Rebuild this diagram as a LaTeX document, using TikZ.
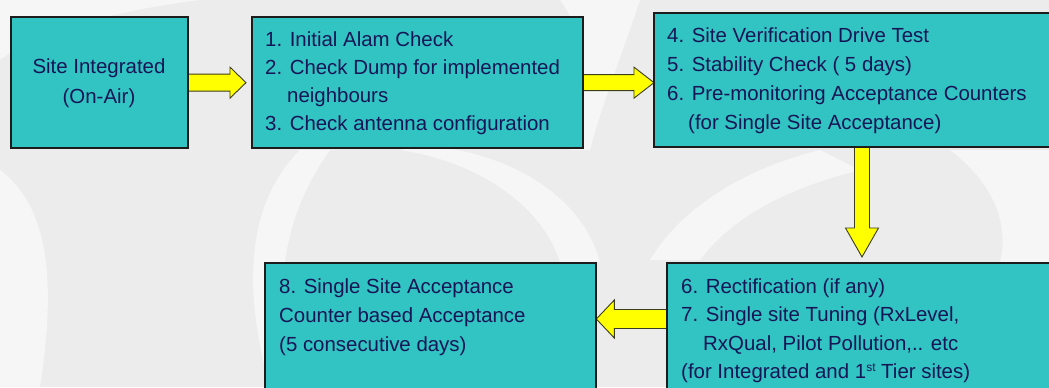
\documentclass[tikz,border=0pt]{standalone}
\usepackage{fontspec}
\setmainfont{Liberation Sans}
\usetikzlibrary{calc}

\definecolor{bggray}{RGB}{236,236,236}
\definecolor{boxteal}{RGB}{50,195,195}
\definecolor{boxedge}{RGB}{28,28,28}
\definecolor{txtnavy}{RGB}{22,22,86}
\definecolor{arrowfill}{RGB}{255,255,0}
\definecolor{arrowedge}{RGB}{60,60,30}

% block arrow: tail, tip, shaft half-width, head half-width, head length
\newcommand\blockarrow[5]{%
  \coordinate (ba-h) at ($(#2)!#5!(#1)$);
  \draw[blockarrow]
    ($(#1)!#3!90:(#2)$) -- ($(ba-h)!#3!90:(#2)$) -- ($(ba-h)!#4!90:(#2)$)
    -- (#2)
    -- ($(ba-h)!#4!-90:(#2)$) -- ($(ba-h)!#3!-90:(#2)$) -- ($(#1)!#3!-90:(#2)$) -- cycle;
}

\begin{document}
\begin{tikzpicture}[x=1bp,y=-1bp,
  stepbox/.style={draw=boxedge,line width=1.3bp,fill=boxteal,rectangle,inner sep=0pt,anchor=north west},
  steptext/.style={text=txtnavy,font=\fontsize{20.5}{24}\selectfont,inner sep=0pt,anchor=base west},
  steptextc/.style={steptext,anchor=base},
  blockarrow/.style={fill=arrowfill,draw=arrowedge,line width=0.9bp,line join=miter},
  swoosh/.style={fill=white,opacity=0.55}]

\useasboundingbox (0,0) rectangle (1049,387);
\clip (0,0) rectangle (1049,387);

% background with soft watermark swooshes
\fill[bggray] (0,0) rectangle (1049,387);
\fill[swoosh] (0,0) -- (200,0) .. controls (120,10) and (40,30) .. (0,60) -- cycle;
\fill[swoosh] (0,170) .. controls (40,200) and (60,260) .. (40,387) -- (0,387) -- cycle;
\fill[swoosh] (300,150) .. controls (250,200) and (240,280) .. (270,387) -- (300,387) .. controls (270,300) and (280,220) .. (330,150) -- cycle;
\fill[swoosh] (560,0) -- (640,0) .. controls (620,60) and (600,110) .. (590,150) -- (570,150) .. controls (585,90) and (590,40) .. (560,0) -- cycle;
\fill[swoosh] (820,150) .. controls (740,170) and (680,210) .. (650,260) -- (700,260) .. controls (730,220) and (780,190) .. (860,170) -- cycle;
\fill[swoosh] (950,150) .. controls (990,180) and (1010,220) .. (1000,262) -- (1049,262) -- (1049,150) -- cycle;
\fill[swoosh] (400,150) .. controls (470,160) and (540,200) .. (560,262) -- (600,262) .. controls (580,190) and (500,150) .. (420,145) -- cycle;

% process boxes
\node[stepbox,minimum width=176bp,minimum height=130bp] (b1) at (11,17) {};
\node[stepbox,minimum width=330bp,minimum height=130bp] (b2) at (252,17) {};
\node[stepbox,minimum width=411bp,minimum height=133bp] (b3) at (654,13) {};
\node[stepbox,minimum width=400bp,minimum height=140bp] (b4) at (667,263) {};
\node[stepbox,minimum width=330bp,minimum height=140bp] (b5) at (265,263) {};

% arrow ends
\coordinate (a1tip) at ($(b2.west)+(-6,0)$);
\coordinate (a2tail) at (b2.east);
\coordinate (a2tip) at (b2.east -| b3.west);
\coordinate (a3tail) at ($(b3.south west)+(208,0)$);
\coordinate (a3tip) at ($(b4.north west)+(195,-6)$);
\coordinate (a4tail) at ($(b4.north west)+(0,56)$);
\coordinate (a4tip) at (a4tail -| b5.east);

% connectors
\blockarrow{b1.east}{a1tip}{8.5bp}{15.5bp}{16bp}
\blockarrow{a2tail}{a2tip}{8bp}{15.5bp}{20bp}
\blockarrow{a3tail}{a3tip}{7.5bp}{16.5bp}{29bp}
\blockarrow{a4tail}{a4tip}{9.5bp}{19bp}{18bp}

% redraw box frames over the arrow tails
\foreach \b in {b1,b2,b3,b4,b5}
  \draw[draw=boxedge,line width=1.3bp] (\b.north west) rectangle (\b.south east);

% box texts
\node[steptextc] (t11) at (99,73) {Site Integrated};
\node[steptextc] (t12) at (99,103) {(On-Air)};

\node[steptext] (t21) at (265,46) {1. Initial Alam Check};
\node[steptext] (t22) at (265,74) {2. Check Dump for implemented};
\node[steptext] (t23) at (287,102) {neighbours};
\node[steptext] (t24) at (265,130) {3. Check antenna configuration};

\node[steptext] (t31) at (667,42) {4. Site Verification Drive Test};
\node[steptext] (t32) at (667,71) {5. Stability Check ( 5 days)};
\node[steptext] (t33) at (667,100) {6. Pre-monitoring Acceptance Counters};
\node[steptext] (t34) at (688,129) {(for Single Site Acceptance)};

\node[steptext] (t41) at (681,293) {6. Rectification (if any)};
\node[steptext] (t42) at (681,321.5) {7. Single site Tuning (RxLevel,};
\node[steptext] (t43) at (703,350) {RxQual, Pilot Pollution,.. etc};
\node[steptext] (t44) at (681,378) {(for Integrated and 1{\fontsize{12}{12}\selectfont\raisebox{7bp}{st}} Tier sites)};

\node[steptext] (t51) at (279,293) {8. Single Site Acceptance};
\node[steptext] (t52) at (279,322) {Counter based Acceptance};
\node[steptext] (t53) at (279,351) {(5 consecutive days)};
\end{tikzpicture}
\end{document}
